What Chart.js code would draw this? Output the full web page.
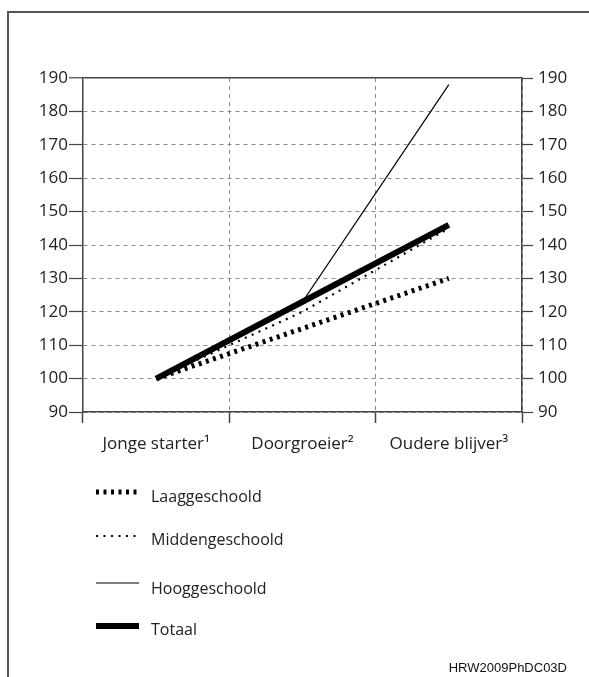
<!DOCTYPE html>
<html>
<head>
<meta charset="utf-8">
<script src="https://cdn.jsdelivr.net/npm/chart.js@4/dist/chart.umd.min.js"></script>
<style>
  html, body { margin: 0; padding: 0; background: #fff; }
  #wrap { position: relative; width: 589px; height: 677px; }
  #frame { position: absolute; left: 7px; top: 11px; right: -5px; bottom: -5px;
           border-left: 2px solid #555; border-top: 2px solid #555; }
  #code { position: absolute; right: 22px; top: 660px; font: 13px "Liberation Sans", Arial, sans-serif; color: #111; }
  canvas { position: absolute; left: 0; top: 0; }
</style>
</head>
<body>
<div id="wrap">
  <div id="frame"></div>
  <canvas id="chart" width="589" height="677"></canvas>
  <div id="code">HRW2009PhDC03D</div>
</div>
<script>
const categories = ['Jonge starter¹', 'Doorgroeier²', 'Oudere blijver³']
const seriesNames = ['Laaggeschoold', 'Middengeschoold', 'Hooggeschoold', 'Totaal']
const laag = [100, 115, 130]
const midden = [100, 120, 145]
const hoog = [100, 123, 188]
const totaal = [100, 123, 146]
const yTicks = [90, 100, 110, 120, 130, 140, 150, 160, 170, 180, 190]

const FONT = { family: '"Open Sans", "Noto Sans", sans-serif', size: 17 }
const AXIS = '#444'
const GRID = '#8a8a8a'

// legend rows: sample y, text y
const legendRows = [[492, 497], [536, 540], [583, 589], [626, 630]]

const legendPlugin = {
  id: 'listLegend',
  afterDraw(chart) {
    const ctx = chart.ctx
    chart.data.datasets.forEach((ds, i) => {
      const [ly, ty] = legendRows[i]
      ctx.save()
      ctx.strokeStyle = '#000'
      ctx.lineWidth = ds.borderWidth
      ctx.setLineDash(ds.borderDash || [])
      ctx.lineCap = 'butt'
      ctx.beginPath()
      ctx.moveTo(96, ly)
      ctx.lineTo(139, ly)
      ctx.stroke()
      ctx.setLineDash([])
      ctx.fillStyle = '#222'
      ctx.font = `16px ${FONT.family}`
      ctx.textBaseline = 'middle'
      ctx.fillText(ds.label, 151, ty)
      ctx.restore()
    })
  },
}

new Chart(document.getElementById('chart'), {
  type: 'line',
  data: {
    labels: categories,
    datasets: [
      { label: seriesNames[0], data: laag, borderWidth: 5, borderDash: [3, 4.5], order: 2 },
      { label: seriesNames[1], data: midden, borderWidth: 2.2, borderDash: [2, 5.5], order: 3 },
      { label: seriesNames[2], data: hoog, borderWidth: 1.2, order: 1 },
      { label: seriesNames[3], data: totaal, borderWidth: 6, order: 0 },
    ].map((d) => ({ ...d, borderColor: '#000', pointRadius: 0, tension: 0, borderCapStyle: 'butt', fill: false })),
  },
  options: {
    responsive: false,
    animation: false,
    layout: { padding: { top: 78, bottom: 205, left: 0, right: 0 } },
    plugins: { legend: { display: false }, tooltip: { enabled: false } },
    scales: {
      x: {
        type: 'category',
        offset: true,
        grid: {
          offset: true,
          color: GRID,
          lineWidth: 1,
          tickLength: 11,
          tickColor: AXIS,
          tickWidth: 1.5,
        },
        border: { color: AXIS, width: 1.5, dash: [4, 4] },
        ticks: { font: FONT, color: '#222', padding: 11, maxRotation: 0 },
        afterFit(scale) { scale.height = 60 },
      },
      y: {
        position: 'left',
        min: 90,
        max: 190,
        afterBuildTicks(scale) { scale.ticks = yTicks.map((v) => ({ value: v })) },
        grid: {
          color: (c) => (c.tick && c.tick.value === 190 ? AXIS : GRID),
          lineWidth: (c) => (c.tick && c.tick.value === 190 ? 1.5 : 1),
          tickLength: 14,
          tickColor: AXIS,
          tickWidth: 1.2,
        },
        border: { color: AXIS, width: 1.5, dash: (c) => (c.tick && c.tick.value === 190 ? [] : [4, 4]) },
        ticks: { font: FONT, color: '#222', padding: 1 },
        afterFit(scale) { scale.width = 83 },
      },
      y2: {
        position: 'right',
        min: 90,
        max: 190,
        afterBuildTicks(scale) { scale.ticks = yTicks.map((v) => ({ value: v })) },
        grid: { drawOnChartArea: false, tickLength: 11, tickColor: AXIS, tickWidth: 1.2 },
        border: { color: AXIS, width: 1.5 },
        ticks: { font: FONT, color: '#222', padding: 5 },
        afterFit(scale) { scale.width = 67 },
      },
    },
  },
  plugins: [legendPlugin],
})
</script>
</body>
</html>
